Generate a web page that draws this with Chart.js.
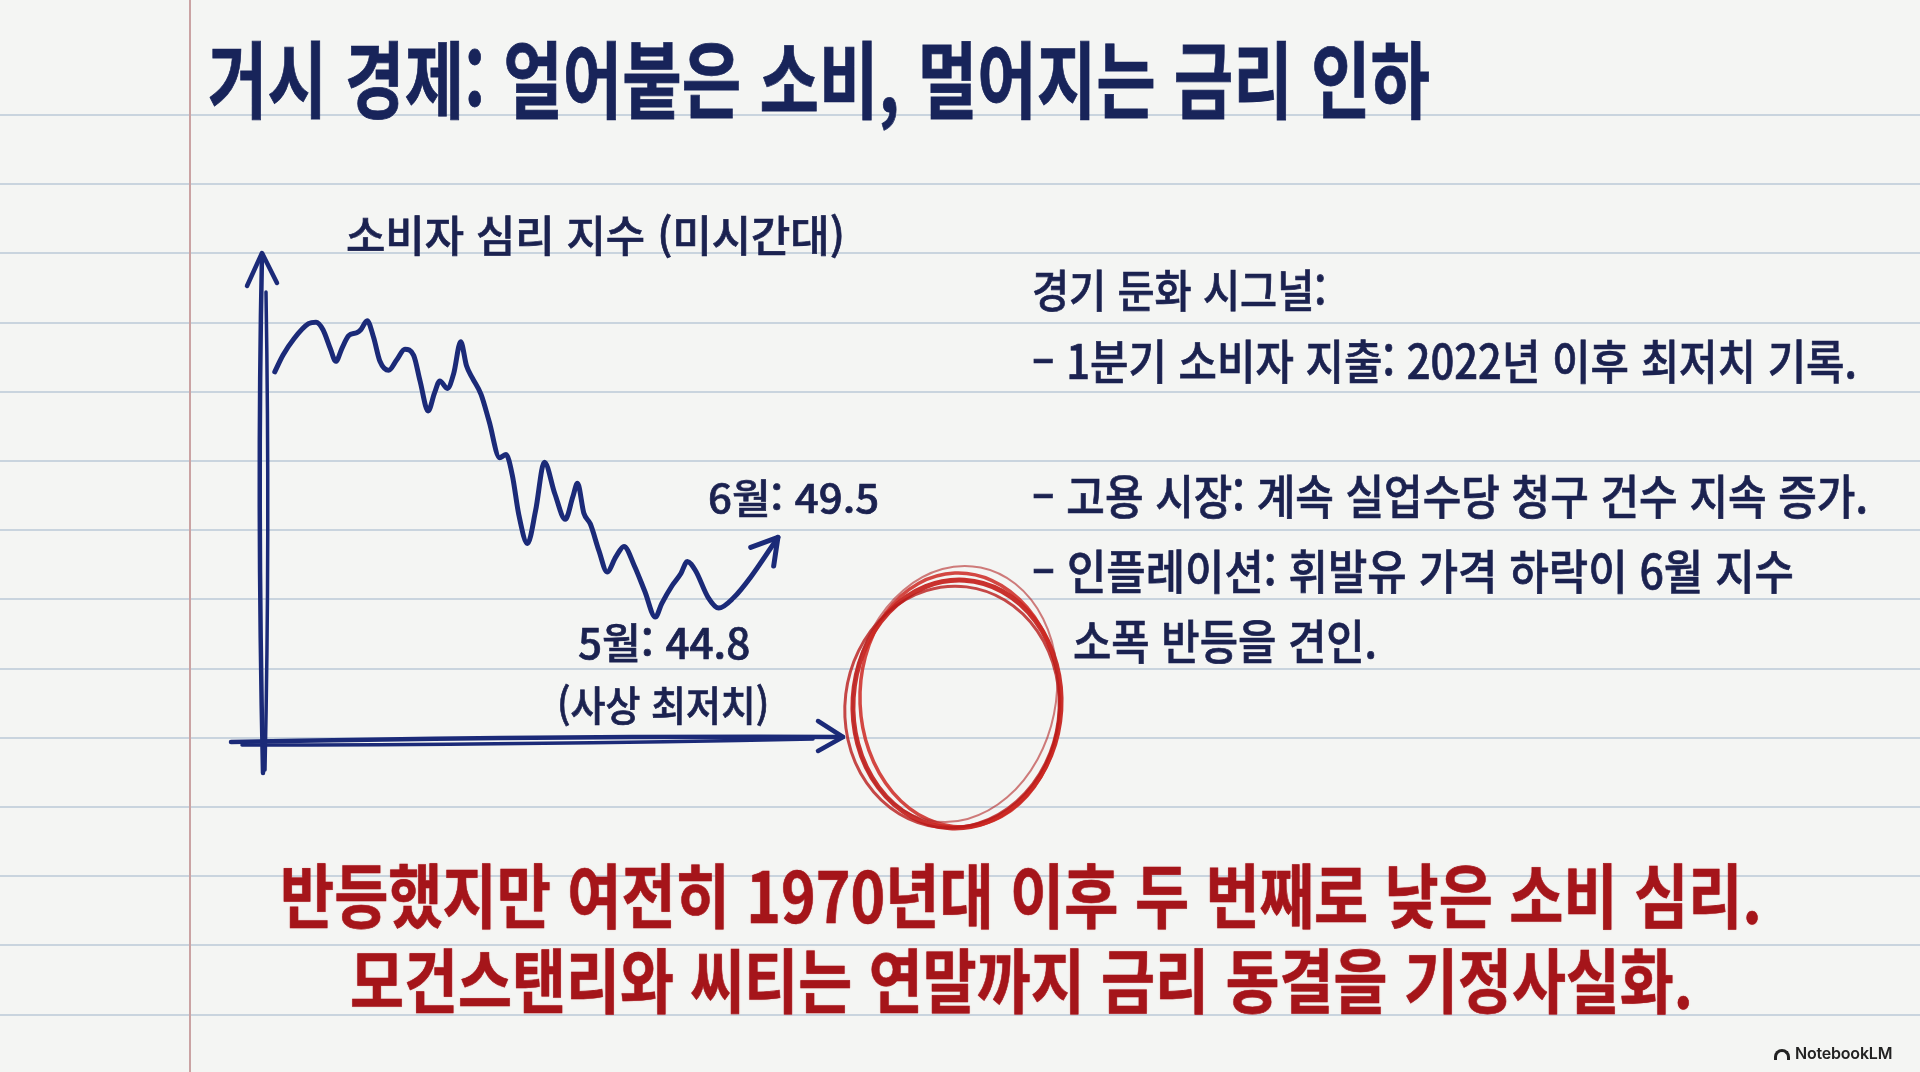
<!DOCTYPE html>
<html lang="ko">
<head>
<meta charset="utf-8">
<title>거시 경제: 얼어붙은 소비, 멀어지는 금리 인하</title>
<script src="https://cdn.jsdelivr.net/npm/chart.js@4.4.1/dist/chart.umd.min.js"></script>
<style>
  html, body { margin: 0; padding: 0; }
  body {
    width: 1920px; height: 1072px; overflow: hidden; position: relative;
    background: #f4f5f3;
    font-family: "Noto Sans CJK KR", "Noto Sans", sans-serif;
  }
  #rules {
    position: absolute; left: 0; top: 114px; width: 1920px; height: 958px;
    background-image: repeating-linear-gradient(to bottom, #c9d4de 0, #c9d4de 2px, transparent 2px, transparent 69.2px);
  }
  #margin { position: absolute; left: 189px; top: 0; width: 2px; height: 1072px; background: #caa3a3; }
  #sketch { position: absolute; left: 0; top: 0; }
  .t {
    position: absolute; white-space: nowrap; line-height: 1;
    transform-origin: 0 0; display: inline-block;
  }
  .navy { color: #18245a; -webkit-text-stroke: 0.8px #18245a; }
  .ink { color: #1b2250; font-weight: 500; -webkit-text-stroke: 0.7px #1b2250; }
  .red { color: #a5151a; font-weight: 700; -webkit-text-stroke: 0.6px #a5151a; text-shadow: 0 0 2px rgba(190, 30, 30, 0.35); }
  #brand {
    position: absolute; left: 1774px; top: 1043px; font-family: Inter, Roboto, sans-serif;
    font-size: 16px; font-weight: 600; color: #222; letter-spacing: -0.2px;
  }
  #brand i {
    display: inline-block; width: 16px; height: 11px; margin-right: 5px;
    border: 3px solid #222; border-bottom: none; border-radius: 12px 12px 0 0;
    vertical-align: -1px; box-sizing: border-box;
  }
</style>
</head>
<body>
<div id="rules"></div>
<div id="margin"></div>
<canvas id="sketch" width="1920" height="1072"></canvas>

<div class="t navy" style="left:208px; top:34px; font-size:84px; font-weight:700;" data-w="1222">거시 경제: 얼어붙은 소비, 멀어지는 금리 인하</div>

<div class="t ink" style="left:346px; top:212px; font-size:43px;" data-w="499">소비자 심리 지수 (미시간대)</div>
<div class="t ink" style="left:708px; top:476px; font-size:40px;" data-w="171">6월: 49.5</div>
<div class="t ink" style="left:578px; top:620px; font-size:42px;" data-w="172">5월: 44.8</div>
<div class="t ink" style="left:557px; top:683px; font-size:41px;" data-w="212">(사상 최저치)</div>

<div class="t ink" style="left:1032px; top:266px; font-size:45px;" data-w="294">경기 둔화 시그널:</div>
<div class="t ink" style="left:1032px; top:335px; font-size:47px;" data-w="825">– 1분기 소비자 지출: 2022년 이후 최저치 기록.</div>
<div class="t ink" style="left:1032px; top:470px; font-size:47px;" data-w="836">– 고용 시장: 계속 실업수당 청구 건수 지속 증가.</div>
<div class="t ink" style="left:1032px; top:545px; font-size:47px;" data-w="762">– 인플레이션: 휘발유 가격 하락이 6월 지수</div>
<div class="t ink" style="left:1073px; top:615px; font-size:47px;" data-w="304">소폭 반등을 견인.</div>

<div class="t red" style="left:280px; top:858px; font-size:70px;" data-w="1482">반등했지만 여전히 1970년대 이후 두 번째로 낮은 소비 심리.</div>
<div class="t red" style="left:350px; top:943px; font-size:70px;" data-w="1343">모건스탠리와 씨티는 연말까지 금리 동결을 기정사실화.</div>

<div id="brand"><i></i>NotebookLM</div>

<script>
// 소비자 심리 지수 (손그림 곡선을 읽은 값)
const period = [
  2.2, 3.6, 5.5, 8.0, 9.3, 10.5, 11.8, 12.7, 13.8, 14.9,
  16.3, 17.0, 18.1, 19.2, 20.3, 21.8, 23.2, 24.6, 26.1, 27.2,
  28.6, 29.7, 30.6, 31.9, 33.0, 34.2, 35.2, 36.2, 37.7, 39.1,
  40.9, 42.0, 43.1, 44.2, 45.7, 47.1, 48.6, 50.4, 52.2, 53.5,
  54.3, 55.4, 56.5, 58.0, 59.4, 60.9, 62.3, 64.1, 65.9, 67.7,
  68.8, 70.6, 72.1, 73.2, 74.6, 76.8, 78.6, 81.2, 84.0, 88.8
];
const sentiment = [
  61.1, 62.2, 63.3, 64.3, 64.4, 63.9, 62.6, 61.8, 62.7, 63.5,
  63.7, 63.9, 64.5, 63.4, 61.8, 61.2, 61.9, 62.6, 62.2, 60.5,
  58.5, 59.7, 60.5, 60.0, 61.0, 63.1, 61.5, 60.7, 59.6, 57.8,
  55.4, 55.6, 54.2, 51.6, 49.7, 51.9, 55.1, 53.0, 51.3, 52.8,
  53.7, 51.7, 51.0, 49.2, 47.8, 48.8, 49.5, 48.2, 46.5, 44.8,
  45.7, 46.9, 47.7, 48.5, 47.9, 46.1, 45.4, 46.1, 47.4, 50.1
];
const yRange = [36.5, 69];
const xRange = [0, 100];

const ink = "#1b2a78";

// 손으로 그린 축, 화살표, 빨간 동그라미
const sketchPlugin = {
  id: "sketch",
  afterDatasetsDraw(chart) {
    const { ctx, chartArea: a } = chart;
    const L = a.left, B = a.bottom, T = a.top, R = a.right;
    ctx.save();
    ctx.strokeStyle = ink;
    ctx.lineCap = "round";
    ctx.lineJoin = "round";

    // y축 (두 번 그은 선)
    ctx.lineWidth = 4.5;
    ctx.beginPath();
    ctx.moveTo(L + 1, B + 31);
    ctx.quadraticCurveTo(L - 5, (B + T) / 2, L, T + 1);
    ctx.stroke();
    ctx.lineWidth = 3.5;
    ctx.beginPath();
    ctx.moveTo(L + 4, T + 39);
    ctx.quadraticCurveTo(L + 8, (B + T) / 2 + 40, L + 3, B + 28);
    ctx.stroke();
    ctx.lineWidth = 4.5;
    ctx.beginPath();
    ctx.moveTo(L - 15, T + 33);
    ctx.lineTo(L, T);
    ctx.lineTo(L + 15, T + 30);
    ctx.stroke();

    // x축
    ctx.lineWidth = 4.5;
    ctx.beginPath();
    ctx.moveTo(L - 31, B);
    ctx.quadraticCurveTo((L + R) / 2, B - 6, R, B - 5);
    ctx.stroke();
    ctx.lineWidth = 3.5;
    ctx.beginPath();
    ctx.moveTo(L - 20, B + 3);
    ctx.quadraticCurveTo((L + R) / 2 - 40, B + 3, R - 30, B - 3);
    ctx.stroke();
    ctx.lineWidth = 4.5;
    ctx.beginPath();
    ctx.moveTo(R - 25, B - 21);
    ctx.lineTo(R, B - 5);
    ctx.lineTo(R - 25, B + 9);
    ctx.stroke();

    // 곡선 끝의 화살표
    const pts = chart.getDatasetMeta(0).data;
    const p1 = pts[pts.length - 1], p0 = pts[pts.length - 4];
    const back = Math.atan2(p0.y - p1.y, p0.x - p1.x);
    ctx.lineWidth = 5;
    ctx.beginPath();
    ctx.moveTo(p1.x + 29 * Math.cos(back + 0.52), p1.y + 29 * Math.sin(back + 0.52));
    ctx.lineTo(p1.x, p1.y);
    ctx.lineTo(p1.x + 29 * Math.cos(back - 0.55), p1.y + 29 * Math.sin(back - 0.55));
    ctx.stroke();

    // 빨간 동그라미
    const loops = [
      [957, 704, 104, 124, 0.06, 5, "rgba(196,32,28,0.92)"],
      [960, 700, 100, 127, -0.04, 3.5, "rgba(205,40,34,0.85)"],
      [952, 707, 107, 121, 0.12, 3, "rgba(185,28,26,0.8)"],
      [955, 694, 101, 129, 0.2, 2, "rgba(180,40,40,0.6)"]
    ];
    loops.forEach(([cx, cy, rx, ry, rot, w, c]) => {
      ctx.strokeStyle = c;
      ctx.lineWidth = w;
      ctx.beginPath();
      ctx.ellipse(cx, cy, rx, ry, rot, 0, Math.PI * 2);
      ctx.stroke();
    });
    ctx.restore();
  }
};

function fitTexts() {
  document.querySelectorAll(".t").forEach((el) => {
    const target = parseFloat(el.dataset.w);
    const natural = el.offsetWidth;
    el.style.transform = "scaleX(" + (target / natural).toFixed(4) + ")";
  });
}

document.addEventListener("DOMContentLoaded", function () {
  const ctx = document.getElementById("sketch").getContext("2d");
  new Chart(ctx, {
    type: "line",
    data: {
      datasets: [
        {
          label: "소비자 심리 지수",
          data: period.map((p, i) => ({ x: p, y: sentiment[i] })),
          borderColor: ink,
          borderWidth: 5,
          borderCapStyle: "round",
          borderJoinStyle: "round",
          cubicInterpolationMode: "monotone",
          pointRadius: 0,
          fill: false,
          clip: false,
        },
      ],
    },
    options: {
      responsive: false,
      animation: false,
      layout: { padding: { left: 262, top: 253, right: 1077, bottom: 330 } },
      scales: {
        x: { type: "linear", min: xRange[0], max: xRange[1], display: false },
        y: { min: yRange[0], max: yRange[1], display: false },
      },
      plugins: { legend: { display: false }, tooltip: { enabled: false } },
    },
    plugins: [sketchPlugin],
  });

  if (document.fonts && document.fonts.ready) {
    document.fonts.ready.then(fitTexts);
  } else {
    fitTexts();
  }
});
</script>
</body>
</html>
